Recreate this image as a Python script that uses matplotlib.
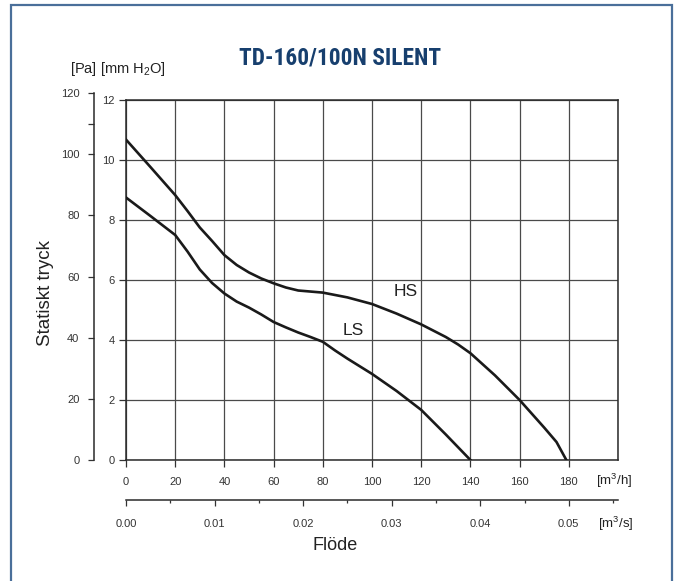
import matplotlib
matplotlib.use("Agg")
import matplotlib.pyplot as plt
from matplotlib.patches import Rectangle
from matplotlib import font_manager as fm

plt.rcParams["font.family"] = ["Liberation Sans", "DejaVu Sans"]
plt.rcParams["mathtext.fontset"] = "custom"
plt.rcParams["mathtext.rm"] = "Liberation Sans"
plt.rcParams["mathtext.it"] = "Liberation Sans:italic"
plt.rcParams["mathtext.bf"] = "Liberation Sans:bold"

# ---- data ----
title = "TD-160/100N SILENT"
hs_flow = [0, 10, 20, 25, 30, 35, 40, 45, 50, 55, 60, 65, 70, 80, 90, 100, 110,
           120, 130, 135, 140, 150, 160, 170, 175, 179]
hs_mm = [10.68, 9.76, 8.83, 8.3, 7.75, 7.3, 6.83, 6.5, 6.25, 6.05, 5.89, 5.75, 5.65,
         5.58, 5.42, 5.2, 4.88, 4.52, 4.1, 3.85, 3.56, 2.82, 2.0, 1.08, 0.6, 0.0]
ls_flow = [0, 10, 20, 25, 30, 35, 40, 45, 50, 55, 60, 65, 70, 75, 80, 85, 90, 100,
           110, 120, 130, 140]
ls_mm = [8.75, 8.13, 7.5, 6.95, 6.35, 5.9, 5.55, 5.28, 5.08, 4.85, 4.6, 4.42, 4.25,
         4.1, 3.94, 3.65, 3.38, 2.87, 2.3, 1.67, 0.85, 0.0]
curve_labels = ["HS", "LS"]
label_pos = [(113.5, 5.6), (92.3, 4.33)]

mmh_ticks = [0, 20, 40, 60, 80, 100, 120, 140, 160, 180]
mm_ticks = [0, 2, 4, 6, 8, 10, 12]
pa_ticks = [0, 20, 40, 60, 80, 100, 120]
pa_minor = [110]
m3s_ticks = [0.00, 0.01, 0.02, 0.03, 0.04, 0.05]
PA_PER_MM = 9.81
XMAX = 200
YMAX = 12

def pick_title_font():
    best = None
    for f in fm.fontManager.ttflist:
        nm = f.name.lower()
        cond = (str(f.stretch) in ("condensed", "semi-condensed", "extra-condensed")
                or "narrow" in nm or "condensed" in nm
                or "condensed" in f.fname.lower() or "narrow" in f.fname.lower())
        w = f.weight if isinstance(f.weight, int) else (700 if "bold" in str(f.weight) else 400)
        if cond and 600 <= w <= 800 and "mono" not in nm and "serif" not in nm.replace("sans", ""):
            best = f
            if "liberation" in nm or "roboto" in nm:
                break
    if best is not None:
        return fm.FontProperties(fname=best.fname, size=16.8)
    return fm.FontProperties(family="Roboto", weight="bold", size=15)

W, H = 678, 581
fig = plt.figure(figsize=(W / 100, H / 100), dpi=100)
fig.patch.set_facecolor("white")

def fx(px):
    return px / W

def fy(py):
    return 1 - py / H

fig.patches.append(Rectangle((fx(11), fy(H + 5)), fx(672) - fx(11), fy(4.5) - fy(H + 5),
                             transform=fig.transFigure, fill=False,
                             edgecolor="#4a6f9a", linewidth=1.6))

tick_col = "#333333"
x0, x1 = 126, 618
y0, y1 = 460, 100
ax = fig.add_axes([fx(x0), fy(y0), fx(x1) - fx(x0), fy(y1) - fy(y0)])
ax.set_xlim(0, XMAX)
ax.set_ylim(0, YMAX)
for v in range(0, XMAX + 1, 20):
    ax.axvline(v, color="#4a4a4a", lw=0.9, zorder=1)
for v in mm_ticks:
    ax.axhline(v, color="#4a4a4a", lw=0.9, zorder=1)
for s in ax.spines.values():
    s.set_color("#2a2a2a")
    s.set_linewidth(1.1)
ax.set_xticks(mmh_ticks)
ax.set_yticks(mm_ticks)
ax.tick_params(axis="both", direction="out", length=5, width=0.9, color=tick_col,
               labelsize=8, labelcolor=tick_col)
ax.tick_params(axis="x", pad=7)
ax.tick_params(axis="y", pad=3)

ax.plot(hs_flow, hs_mm, color="#1a1a1a", lw=1.9, zorder=3, solid_joinstyle="round")
ax.plot(ls_flow, ls_mm, color="#1a1a1a", lw=1.9, zorder=3, solid_joinstyle="round")
for lab, (lx, ly) in zip(curve_labels, label_pos):
    ax.text(lx, ly, lab, fontsize=12.5, color="#222222", ha="center", va="center")

# Pa axis
pa_top_mm = pa_ticks[-1] / PA_PER_MM
pa_h = (fy(y1) - fy(y0)) * pa_top_mm / YMAX
axp = fig.add_axes([fx(94), fy(y0), 0.0001, pa_h])
axp.set_ylim(0, pa_ticks[-1])
axp.set_xticks([])
axp.patch.set_alpha(0)
for k in ["top", "right", "bottom"]:
    axp.spines[k].set_visible(False)
axp.spines["left"].set_color("#2a2a2a")
axp.spines["left"].set_linewidth(1.1)
axp.set_yticks(pa_ticks)
axp.set_yticks(pa_minor, minor=True)
axp.tick_params(axis="y", which="major", direction="out", length=4.5, width=0.9,
                color=tick_col, labelsize=8, labelcolor=tick_col, pad=6)
axp.tick_params(axis="y", which="minor", direction="out", length=4.5, width=0.9,
                color=tick_col)

# m3/s axis
axs = fig.add_axes([fx(x0), fy(500), fx(x1) - fx(x0), 0.0001])
axs.set_xlim(0, XMAX / 3600)
axs.set_yticks([])
axs.patch.set_alpha(0)
for k in ["top", "right", "left"]:
    axs.spines[k].set_visible(False)
axs.spines["bottom"].set_color("#2a2a2a")
axs.spines["bottom"].set_linewidth(1.1)
axs.set_xticks(m3s_ticks)
axs.set_xticklabels([f"{t:.2f}" for t in m3s_ticks])
axs.set_xticks([t + 0.005 for t in m3s_ticks], minor=True)
axs.tick_params(axis="x", which="major", direction="out", length=4.5, width=0.9,
                color=tick_col, labelsize=8, labelcolor=tick_col, pad=9)
axs.tick_params(axis="x", which="minor", direction="out", length=2.5, width=0.9,
                color=tick_col)

# texts
fig.text(fx(340), fy(58), title, fontproperties=pick_title_font(), fontweight="bold",
         color="#173f6e", ha="center", va="center")
fig.text(fx(70), fy(69), "[Pa] [mm H$_2$O]", fontsize=10.5, color="#222222",
         ha="left", va="center")
fig.text(fx(46), fy(293), "Statiskt tryck", fontsize=13.5, color="#222222",
         ha="center", va="center", rotation=90)
fig.text(fx(335), fy(545), "Flöde", fontsize=13, color="#222222",
         ha="center", va="center")
fig.text(fx(596), fy(481), "[m$^3$/h]", fontsize=9.5, color="#222222",
         ha="left", va="center")
fig.text(fx(598), fy(524), "[m$^3$/s]", fontsize=9.5, color="#222222",
         ha="left", va="center")

fig.savefig("out.png", dpi=100, facecolor="white")
